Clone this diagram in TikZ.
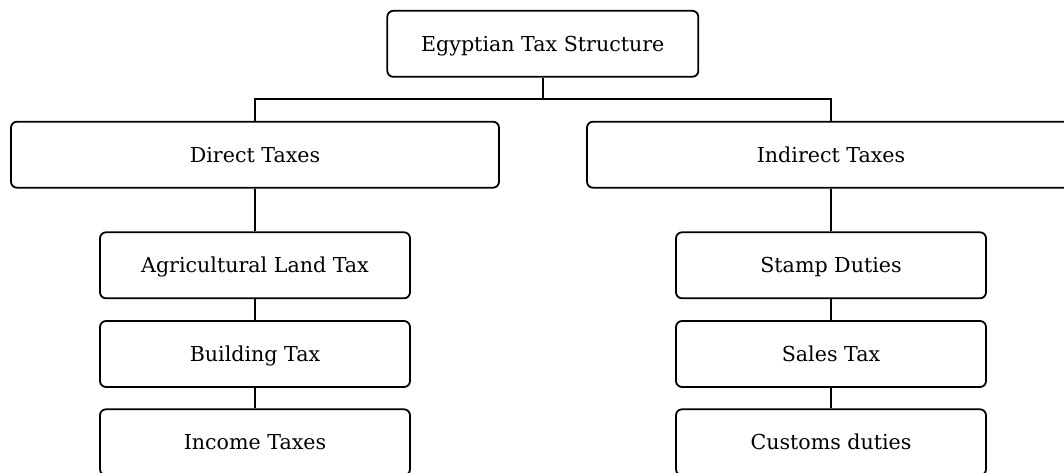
\documentclass[tikz,border=0pt]{standalone}
\usepackage{fontspec}
\setmainfont{DejaVu Serif}
\begin{document}
\begin{tikzpicture}[x=1pt,y=-1pt,
  box/.style={draw, line width=1.8pt, rounded corners=6pt, minimum height=66pt,
    inner sep=0pt, text height=15.2pt, text depth=0pt,
    font=\fontsize{20.6}{25}\selectfont},
  wide/.style={box, minimum width=488pt},
  narrow/.style={box, minimum width=310pt},
  link/.style={line width=1.8pt}]
\useasboundingbox (0,0) rectangle (1064,472);
\clip (0,0) rectangle (1064,472);
\node[box, minimum width=311pt] (root) at (542.8,43.8) {Egyptian Tax Structure};
\node[wide] (direct) at (255,154.7) {Direct Taxes};
\node[wide] (indirect) at (831,154.7) {Indirect Taxes};
\node[narrow] (agri) at (255,265.3) {Agricultural Land Tax};
\node[narrow] (building) at (255,354) {Building Tax};
\node[narrow] (income) at (255,442.3) {Income Taxes};
\node[narrow] (stamp) at (831,265.3) {Stamp Duties};
\node[narrow] (sales) at (831,354) {Sales Tax};
\node[narrow] (customs) at (831,442.3) {Customs duties};
\coordinate (bus) at (542.8,99);
\draw[link] (root.south) -- (bus);
\draw[link] (direct.north) -- (direct.north |- bus) -- (indirect.north |- bus) -- (indirect.north);
\draw[link] (direct.south) -- (agri.north);
\draw[link] (agri.south) -- (building.north);
\draw[link] (building.south) -- (income.north);
\draw[link] (indirect.south) -- (stamp.north);
\draw[link] (stamp.south) -- (sales.north);
\draw[link] (sales.south) -- (customs.north);
\end{tikzpicture}
\end{document}
